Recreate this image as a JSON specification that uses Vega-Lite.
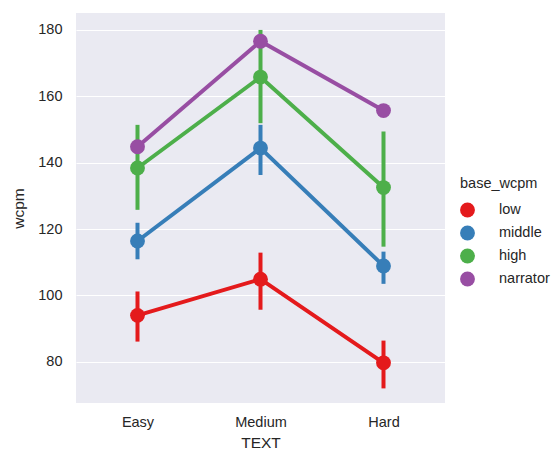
{
  "$schema": "https://vega.github.io/schema/vega-lite/v6.json",
  "width": 369,
  "height": 390,
  "autosize": "none",
  "padding": {"left": 76, "top": 13, "right": 111, "bottom": 47},
  "background": "white",
  "config": {
    "view": {"fill": "#EAEAF2", "stroke": null},
    "font": "Liberation Sans",
    "axis": {
      "domain": false,
      "ticks": false,
      "labelFont": "Liberation Sans",
      "titleFont": "Liberation Sans",
      "labelFontSize": 14.5,
      "titleFontSize": 15.5,
      "labelColor": "#262626",
      "titleColor": "#262626",
      "titleFontWeight": "normal",
      "gridColor": "white",
      "gridWidth": 1.2
    },
    "legend": {
      "labelFont": "Liberation Sans",
      "titleFont": "Liberation Sans",
      "labelFontSize": 14.5,
      "titleFontSize": 14.5,
      "titleFontWeight": "normal",
      "labelColor": "#262626",
      "titleColor": "#262626"
    }
  },
  "data": {
    "values": [
      {"TEXT": "Easy", "base_wcpm": "low", "wcpm": 94.0, "lo": 86.1, "hi": 101.2},
      {"TEXT": "Medium", "base_wcpm": "low", "wcpm": 104.9, "lo": 95.7, "hi": 112.9},
      {"TEXT": "Hard", "base_wcpm": "low", "wcpm": 79.7, "lo": 72.0, "hi": 86.4},
      {"TEXT": "Easy", "base_wcpm": "middle", "wcpm": 116.4, "lo": 110.9, "hi": 121.9},
      {"TEXT": "Medium", "base_wcpm": "middle", "wcpm": 144.4, "lo": 136.3, "hi": 151.4},
      {"TEXT": "Hard", "base_wcpm": "middle", "wcpm": 108.9, "lo": 103.5, "hi": 113.2},
      {"TEXT": "Easy", "base_wcpm": "high", "wcpm": 138.4, "lo": 125.8, "hi": 151.4},
      {"TEXT": "Medium", "base_wcpm": "high", "wcpm": 165.8, "lo": 151.9, "hi": 180.0},
      {"TEXT": "Hard", "base_wcpm": "high", "wcpm": 132.5, "lo": 114.7, "hi": 149.4},
      {"TEXT": "Easy", "base_wcpm": "narrator", "wcpm": 144.8, "lo": null, "hi": null},
      {"TEXT": "Medium", "base_wcpm": "narrator", "wcpm": 176.6, "lo": null, "hi": null},
      {"TEXT": "Hard", "base_wcpm": "narrator", "wcpm": 155.7, "lo": null, "hi": null}
    ]
  },
  "encoding": {
    "x": {
      "field": "TEXT",
      "type": "nominal",
      "sort": ["Easy", "Medium", "Hard"],
      "scale": {"type": "point", "padding": 0.5},
      "axis": {"labelAngle": 0, "grid": false, "labelPadding": 12, "titlePadding": 7, "title": "TEXT"}
    },
    "color": {
      "field": "base_wcpm",
      "type": "nominal",
      "sort": ["low", "middle", "high", "narrator"],
      "scale": {"domain": ["low", "middle", "high", "narrator"], "range": ["#e41a1c", "#377eb8", "#4daf4a", "#984ea3"]},
      "legend": {
        "title": "base_wcpm",
        "orient": "none",
        "legendX": 384,
        "legendY": 164,
        "symbolType": "circle",
        "symbolSize": 220,
        "symbolStrokeWidth": 0,
        "symbolOpacity": 1,
        "labelOffset": 24,
        "rowPadding": 7,
        "titlePadding": 11
      }
    }
  },
  "layer": [
    {
      "transform": [{"filter": "datum.lo != null"}],
      "mark": {"type": "rule", "strokeWidth": 4},
      "encoding": {
        "y": {"field": "lo", "type": "quantitative"},
        "y2": {"field": "hi"}
      }
    },
    {
      "mark": {"type": "line", "strokeWidth": 4},
      "encoding": {
        "y": {
          "field": "wcpm",
          "type": "quantitative",
          "scale": {"domain": [67.6, 185.1], "nice": false, "zero": false},
          "axis": {"values": [80, 100, 120, 140, 160, 180], "labelPadding": 14, "titlePadding": 11, "title": "wcpm"}
        }
      }
    },
    {
      "mark": {"type": "point", "filled": true, "opacity": 1, "size": 220},
      "encoding": {
        "y": {"field": "wcpm", "type": "quantitative"}
      }
    }
  ]
}
